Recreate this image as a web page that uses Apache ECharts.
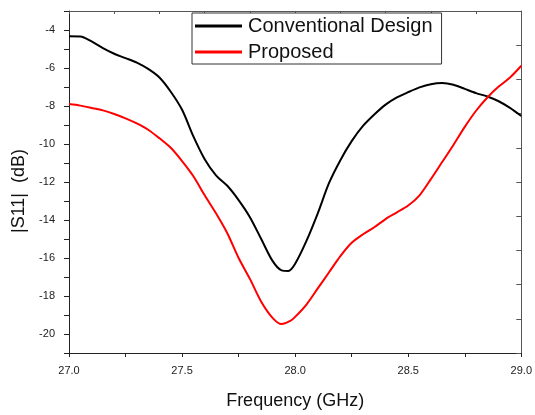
<!DOCTYPE html>
<html>
<head>
<meta charset="utf-8">
<script src="https://cdn.jsdelivr.net/npm/echarts@6/dist/echarts.min.js"></script>
<style>
  html, body { margin: 0; padding: 0; background: #fff; }
  #chart { width: 535px; height: 415px; }
</style>
</head>
<body>
<div id="chart"></div>
<script>
// Frequency sweep (GHz)
const freqConventional = [27.0, 27.05, 27.1, 27.15, 27.2, 27.25, 27.3, 27.35, 27.4, 27.45, 27.5, 27.55,
  27.6, 27.65, 27.7, 27.75, 27.8, 27.85, 27.9, 27.94, 27.97, 28.0, 28.05, 28.1, 28.15, 28.2,
  28.25, 28.3, 28.35, 28.4, 28.45, 28.5, 28.55, 28.6, 28.65, 28.7, 28.75, 28.8, 28.85, 28.9,
  28.95, 29.0];
// |S11| of the conventional design (dB)
const s11Conventional = [-4.33, -4.34, -4.6, -4.95, -5.25, -5.48, -5.72, -6.05, -6.5, -7.25, -8.2, -9.6,
  -10.8, -11.65, -12.2, -12.95, -13.85, -15.0, -16.15, -16.65, -16.68, -16.3, -15.1, -13.65, -12.05, -10.85,
  -9.85, -9.05, -8.45, -7.93, -7.55, -7.27, -7.02, -6.85, -6.79, -6.88, -7.1, -7.32, -7.5, -7.75,
  -8.1, -8.53];

const freqProposed = [27.0, 27.05, 27.1, 27.15, 27.2, 27.25, 27.3, 27.35, 27.4, 27.45, 27.5, 27.55,
  27.6, 27.65, 27.7, 27.75, 27.8, 27.85, 27.9, 27.94, 27.98, 28.0, 28.05, 28.1, 28.15, 28.2,
  28.25, 28.3, 28.35, 28.4, 28.45, 28.5, 28.55, 28.6, 28.65, 28.7, 28.75, 28.8, 28.85, 28.9,
  28.95, 29.0];
// |S11| of the proposed design (dB)
const s11Proposed = [-7.9, -7.98, -8.1, -8.23, -8.42, -8.65, -8.92, -9.25, -9.7, -10.2, -10.9, -11.7,
  -12.7, -13.65, -14.7, -16.0, -17.1, -18.3, -19.15, -19.48, -19.3, -19.1, -18.45, -17.6, -16.75, -15.9,
  -15.2, -14.75, -14.38, -13.95, -13.6, -13.24, -12.7, -11.85, -10.95, -10.05, -9.1, -8.25, -7.55, -6.98,
  -6.5, -5.88];

const seriesNames = ['Conventional Design', 'Proposed'];
const xTickLabels = ['27.0', '27.5', '28.0', '28.5', '29.0'];
const yTickLabels = ['-4', '-6', '-8', '-10', '-12', '-14', '-16', '-18', '-20'];

const toPairs = (xs, ys) => xs.map((x, i) => [x, ys[i]]);
const FONT = '"Liberation Sans", Arial, sans-serif';

const chart = echarts.init(document.getElementById('chart'), null, { renderer: 'canvas' });

chart.setOption({
  animation: false,
  backgroundColor: '#ffffff',
  grid: { left: 69, top: 11, width: 455, height: 351, containLabel: false },
  legend: {
    data: seriesNames,
    orient: 'vertical',
    left: 192,
    top: 13,
    padding: [3, 9, 2, 3],
    itemGap: 6,
    itemWidth: 47,
    itemHeight: 3,
    icon: 'rect',
    backgroundColor: '#ffffff',
    borderColor: '#333333',
    borderWidth: 1,
    borderRadius: 0,
    textStyle: { fontFamily: FONT, fontSize: 20, color: '#111111', padding: [0, 0, 0, 1] }
  },
  xAxis: [
    {
      type: 'value',
      position: 'bottom',
      min: 27,
      max: 29,
      interval: 0.25,
      name: 'Frequency (GHz)',
      nameLocation: 'middle',
      nameGap: 39,
      nameTextStyle: { fontFamily: FONT, fontSize: 18, color: '#111111' },
      axisLine: { show: true, lineStyle: { color: '#222222', width: 1 } },
      axisTick: { show: true, inside: false, length: 4, lineStyle: { color: '#222222' } },
      axisLabel: {
        margin: 12,
        fontFamily: FONT,
        fontSize: 11,
        color: '#222222',
        formatter: v => {
          const s = v.toFixed(1);
          return xTickLabels.includes(s) && Math.abs(v * 2 - Math.round(v * 2)) < 1e-6 ? s : '';
        }
      },
      splitLine: { show: false }
    },
    {
      type: 'value',
      position: 'top',
      min: 27,
      max: 29,
      interval: 0.2,
      axisLine: { show: true, lineStyle: { color: '#555555', width: 1 } },
      axisTick: { show: true, inside: true, length: 3, lineStyle: { color: '#555555' } },
      axisLabel: { show: false },
      splitLine: { show: false }
    }
  ],
  yAxis: [
    {
      type: 'value',
      position: 'left',
      min: -21,
      max: -3,
      interval: 1,
      name: '|S11|  (dB)',
      nameLocation: 'middle',
      nameRotate: 90,
      nameGap: 38,
      nameTextStyle: { fontFamily: FONT, fontSize: 18, color: '#111111', padding: [0, 18, 0, 0] },
      axisLine: { show: true, lineStyle: { color: '#222222', width: 1 } },
      axisTick: { show: true, inside: false, length: 5, lineStyle: { color: '#222222' } },
      axisLabel: {
        margin: 14,
        fontFamily: FONT,
        fontSize: 11,
        color: '#222222',
        formatter: v => (yTickLabels.includes(String(v)) ? String(v) : '')
      },
      splitLine: { show: false }
    },
    {
      type: 'value',
      position: 'right',
      min: 0,
      max: 10,
      interval: 1,
      axisLine: { show: true, lineStyle: { color: '#555555', width: 1 } },
      axisTick: { show: true, inside: true, length: 5, lineStyle: { color: '#555555' } },
      axisLabel: { show: false },
      splitLine: { show: false }
    }
  ],
  series: [
    {
      name: seriesNames[0],
      type: 'line',
      xAxisIndex: 0,
      yAxisIndex: 0,
      data: toPairs(freqConventional, s11Conventional),
      smooth: 0.3,
      showSymbol: false,
      symbol: 'none',
      color: '#000000',
      lineStyle: { color: '#000000', width: 2 },
      z: 3
    },
    {
      name: seriesNames[1],
      type: 'line',
      xAxisIndex: 0,
      yAxisIndex: 0,
      data: toPairs(freqProposed, s11Proposed),
      smooth: 0.3,
      showSymbol: false,
      symbol: 'none',
      color: '#ff0000',
      lineStyle: { color: '#ff0000', width: 2 },
      z: 4
    }
  ]
});
</script>
</body>
</html>
